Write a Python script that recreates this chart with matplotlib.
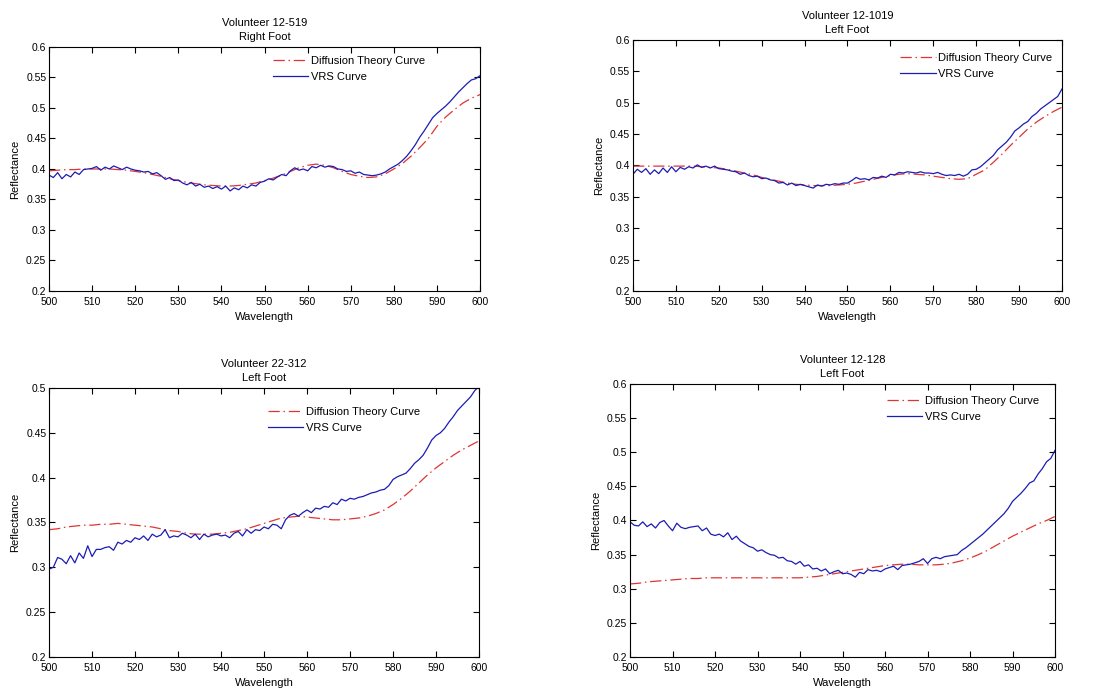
import matplotlib
import matplotlib.pyplot as plt
import numpy as np
from matplotlib.ticker import FormatStrFormatter, MultipleLocator

matplotlib.use("Agg")

plt.rcParams["font.family"] = ["Liberation Sans", "DejaVu Sans"]

# wavelength grids (nm)
wl_vrs = np.arange(500, 601, 1)
wl_diff = np.arange(500, 601, 2)

titles = [
    "Volunteer 12-519\nRight Foot",
    "Volunteer 12-1019\nLeft Foot",
    "Volunteer 22-312\nLeft Foot",
    "Volunteer 12-128\nLeft Foot",
]
ylims = [(0.2, 0.6), (0.2, 0.6), (0.2, 0.5), (0.2, 0.6)]

# measured VRS reflectance, 1 nm steps
vrs_519 = [
    0.390, 0.386, 0.394, 0.384, 0.391, 0.387, 0.395, 0.391, 0.399, 0.400,
    0.401, 0.404, 0.398, 0.403, 0.400, 0.405, 0.402, 0.399, 0.403, 0.400,
    0.398, 0.397, 0.395, 0.396, 0.392, 0.394, 0.389, 0.383, 0.386, 0.381,
    0.382, 0.377, 0.374, 0.378, 0.372, 0.375, 0.370, 0.372, 0.368, 0.371,
    0.367, 0.372, 0.364, 0.369, 0.366, 0.372, 0.369, 0.374, 0.372, 0.378,
    0.380, 0.384, 0.382, 0.387, 0.391, 0.389, 0.397, 0.402, 0.398, 0.400,
    0.397, 0.404, 0.402, 0.406, 0.403, 0.405, 0.404, 0.400, 0.399, 0.396,
    0.397, 0.393, 0.395, 0.391, 0.390, 0.389, 0.390, 0.392, 0.395, 0.400,
    0.404, 0.408, 0.414, 0.421, 0.430, 0.440, 0.452, 0.462, 0.473, 0.484,
    0.491, 0.497, 0.503, 0.510, 0.518, 0.526, 0.533, 0.540, 0.546, 0.548,
    0.553,
]
vrs_1019 = [
    0.386, 0.394, 0.389, 0.395, 0.386, 0.393, 0.387, 0.396, 0.389, 0.398,
    0.390, 0.397, 0.394, 0.398, 0.396, 0.401, 0.397, 0.399, 0.396, 0.399,
    0.395, 0.394, 0.393, 0.391, 0.390, 0.386, 0.388, 0.384, 0.382, 0.383,
    0.379, 0.380, 0.377, 0.376, 0.372, 0.373, 0.369, 0.372, 0.368, 0.370,
    0.368, 0.366, 0.364, 0.369, 0.367, 0.370, 0.369, 0.371, 0.370, 0.372,
    0.372, 0.376, 0.381, 0.378, 0.379, 0.377, 0.381, 0.380, 0.383, 0.381,
    0.386, 0.385, 0.389, 0.388, 0.390, 0.389, 0.388, 0.390, 0.388, 0.388,
    0.387, 0.389, 0.386, 0.384, 0.385, 0.384, 0.386, 0.383, 0.386, 0.393,
    0.394, 0.398, 0.404, 0.410, 0.416, 0.425, 0.431, 0.437, 0.445, 0.455,
    0.460, 0.466, 0.470, 0.478, 0.483, 0.490, 0.495, 0.500, 0.505, 0.510,
    0.522,
]
vrs_312 = [
    0.298, 0.300, 0.311, 0.309, 0.304, 0.313, 0.305, 0.316, 0.310, 0.324,
    0.312, 0.320, 0.320, 0.322, 0.323, 0.319, 0.328, 0.326, 0.330, 0.328,
    0.333, 0.331, 0.335, 0.330, 0.337, 0.334, 0.336, 0.342, 0.333, 0.335,
    0.334, 0.338, 0.336, 0.333, 0.337, 0.331, 0.337, 0.334, 0.336, 0.337,
    0.335, 0.336, 0.333, 0.338, 0.340, 0.335, 0.342, 0.338, 0.342, 0.341,
    0.345, 0.343, 0.348, 0.347, 0.343, 0.353, 0.358, 0.360, 0.357, 0.361,
    0.364, 0.361, 0.366, 0.365, 0.368, 0.367, 0.372, 0.370, 0.376, 0.374,
    0.377, 0.376, 0.378, 0.379, 0.381, 0.383, 0.384, 0.386, 0.387, 0.391,
    0.398, 0.401, 0.403, 0.405, 0.410, 0.416, 0.420, 0.425, 0.433, 0.442,
    0.447, 0.450, 0.455, 0.462, 0.468, 0.475, 0.480, 0.485, 0.490, 0.497,
    0.502,
]
vrs_128 = [
    0.398, 0.393, 0.392, 0.398, 0.391, 0.395, 0.389, 0.397, 0.400, 0.392,
    0.385, 0.396, 0.390, 0.388, 0.390, 0.391, 0.392, 0.385, 0.389, 0.380,
    0.378, 0.380, 0.376, 0.382, 0.372, 0.377, 0.370, 0.366, 0.362, 0.360,
    0.355, 0.357, 0.353, 0.350, 0.349, 0.345, 0.346, 0.341, 0.340, 0.336,
    0.340, 0.333, 0.335, 0.329, 0.330, 0.326, 0.329, 0.322, 0.325, 0.327,
    0.322, 0.323, 0.321, 0.317, 0.324, 0.322, 0.328, 0.326, 0.327, 0.325,
    0.329, 0.331, 0.333, 0.328, 0.334, 0.335, 0.336, 0.338, 0.340, 0.344,
    0.337, 0.344, 0.346, 0.344, 0.347, 0.348, 0.349, 0.350, 0.356, 0.360,
    0.365, 0.370, 0.375, 0.380, 0.386, 0.392, 0.398, 0.404, 0.410, 0.418,
    0.428, 0.434, 0.440, 0.447, 0.455, 0.458, 0.468, 0.476, 0.486, 0.491,
    0.503,
]

# diffusion theory fits, 2 nm steps
diff_519 = [
    0.397, 0.398, 0.399, 0.399, 0.400, 0.400, 0.400, 0.400, 0.399, 0.398,
    0.396, 0.394, 0.391, 0.388, 0.384, 0.381, 0.378, 0.376, 0.374, 0.373,
    0.372, 0.372, 0.373, 0.375, 0.377, 0.381, 0.385, 0.390, 0.396, 0.402,
    0.406, 0.408, 0.406, 0.402, 0.396, 0.391, 0.388, 0.386, 0.387, 0.392,
    0.400, 0.409, 0.421, 0.435, 0.450, 0.470, 0.485, 0.497, 0.508, 0.516,
    0.522,
]
diff_1019 = [
    0.399, 0.399, 0.399, 0.399, 0.399, 0.399, 0.399, 0.399, 0.398, 0.397,
    0.396, 0.394, 0.391, 0.388, 0.385, 0.381, 0.378, 0.375, 0.372, 0.370,
    0.369, 0.368, 0.368, 0.368, 0.369, 0.370, 0.372, 0.375, 0.378, 0.381,
    0.384, 0.386, 0.387, 0.386, 0.385, 0.383, 0.381, 0.379, 0.378, 0.379,
    0.386, 0.393, 0.405, 0.418, 0.432, 0.445, 0.458, 0.469, 0.478, 0.486,
    0.493,
]
diff_312 = [
    0.342, 0.343, 0.345, 0.346, 0.347, 0.347, 0.348, 0.348, 0.349, 0.348,
    0.347, 0.346, 0.345, 0.343, 0.341, 0.340, 0.338, 0.337, 0.337, 0.337,
    0.338, 0.339, 0.341, 0.343, 0.346, 0.349, 0.352, 0.355, 0.356, 0.357,
    0.356, 0.355, 0.354, 0.353, 0.353, 0.354, 0.355, 0.357, 0.360, 0.364,
    0.370, 0.377, 0.385, 0.394, 0.403, 0.411, 0.418, 0.425, 0.431, 0.436,
    0.441,
]
diff_128 = [
    0.307, 0.308, 0.310, 0.311, 0.312, 0.313, 0.314, 0.315, 0.315, 0.316,
    0.316, 0.316, 0.316, 0.316, 0.316, 0.316, 0.316, 0.316, 0.316, 0.316,
    0.316, 0.317, 0.318, 0.320, 0.322, 0.324, 0.326, 0.328, 0.330, 0.332,
    0.334, 0.335, 0.336, 0.336, 0.335, 0.335, 0.335, 0.336, 0.338, 0.341,
    0.345, 0.350, 0.356, 0.363, 0.370, 0.377, 0.383, 0.389, 0.395, 0.400,
    0.406,
]

vrs_curves = [vrs_519, vrs_1019, vrs_312, vrs_128]
diff_curves = [diff_519, diff_1019, diff_312, diff_128]

# axes rectangles in figure fractions
rects = [
    (0.0445, 0.5795, 0.3911, 0.3526),
    (0.5744, 0.5795, 0.3893, 0.3627),
    (0.0445, 0.0506, 0.3902, 0.3887),
    (0.5717, 0.0506, 0.3857, 0.3945),
]
legend_anchor = [(0.89, 0.995), (0.995, 0.98), (0.88, 0.96), (0.98, 0.985)]

fig = plt.figure(figsize=(11.02, 6.92), dpi=100)

for i in range(4):
    ax = fig.add_axes(rects[i])
    ax.plot(wl_diff, diff_curves[i], color="#e03434", linewidth=0.9,
            linestyle=(0, (9, 3, 1.2, 3)), label="Diffusion Theory Curve")
    ax.plot(wl_vrs, vrs_curves[i], color="#1c1cb4", linewidth=0.9,
            label="VRS Curve")
    ax.set_xlim(500, 600)
    ax.set_ylim(*ylims[i])
    ax.xaxis.set_major_locator(MultipleLocator(10))
    ax.yaxis.set_major_locator(MultipleLocator(0.05))
    ax.yaxis.set_major_formatter(FormatStrFormatter("%g"))
    ax.tick_params(direction="in", top=True, right=True, length=4,
                   width=0.8, labelsize=7.5, pad=2)
    ax.tick_params(axis="x", pad=4)
    for s in ax.spines.values():
        s.set_linewidth(0.8)
    ax.set_title(titles[i], fontsize=8, pad=5, linespacing=1.5)
    ax.set_xlabel("Wavelength", fontsize=8, labelpad=4)
    ax.set_ylabel("Reflectance", fontsize=8, labelpad=4)
    ax.legend(loc="upper right", bbox_to_anchor=legend_anchor[i],
              frameon=False, fontsize=8, handlelength=3.2,
              handletextpad=0.2, labelspacing=0.55, borderaxespad=0.3)

fig.savefig("out.png", dpi=100)
plt.close(fig)
